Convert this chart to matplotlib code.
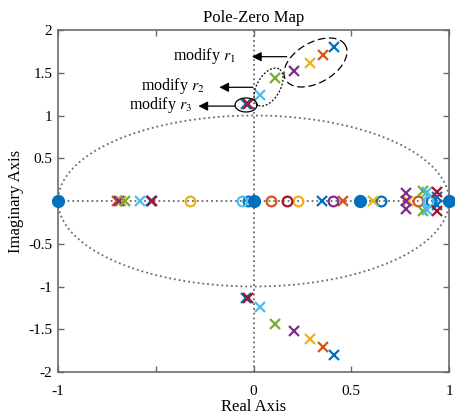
import numpy as np
import matplotlib.pyplot as plt

plt.rcParams['font.family'] = ['Liberation Serif', 'DejaVu Serif']
plt.rcParams['mathtext.fontset'] = 'stix'

# MATLAB default colour order
colors = ['#0072BD', '#D95319', '#EDB120', '#7E2F8E', '#77AC30', '#4DBEEE', '#A2142F']

# poles (complex) and zeros for each colour
poles = [
    [0.41+1.80j, 0.41-1.80j, -0.04+1.13j, -0.04-1.13j, 0.352, -0.524, 0.937+0.05j, 0.937-0.05j],
    [0.355+1.71j, 0.355-1.71j, -0.70, 0.459],
    [0.29+1.61j, 0.29-1.61j, -0.68, 0.61, 0.79],
    [0.205+1.52j, 0.205-1.52j, -0.686, 0.778+0.09j, 0.778-0.09j, 0.778],
    [0.11+1.44j, 0.11-1.44j, -0.657, 0.865+0.12j, 0.865-0.12j],
    [0.035+1.24j, 0.035-1.24j, -0.58, 0.89+0.10j, 0.89-0.10j],
    [-0.03+1.13j, -0.03-1.13j, -0.52, 0.94+0.10j, 0.94-0.12j],
]
zeros = [
    [-1.03, -0.027, 0.652, 0.91],
    [0.088, 0.843],
    [-0.325, 0.229],
    [0.405],
    [],
    [-0.06, 0.895],
    [-1.0, 0.17],
]
filled = [-1.0, 0.0, 0.545, 1.0]

xticks = [-1, -0.5, 0, 0.5, 1]
xlabels = ['-1', '', '0', '0.5', '1']
yticks = [-2, -1.5, -1, -0.5, 0, 0.5, 1, 1.5, 2]
ylabels = ['-2', '-1.5', '-1', '-0.5', '', '0.5', '1', '1.5', '2']

fig = plt.figure(figsize=(4.55, 4.15), dpi=100)
ax = fig.add_axes([0.1275, 0.1036, 0.8593, 0.8241])
ax.set_xlim(-1, 1)
ax.set_ylim(-2, 2)

grey = '#6b6b6b'
ax.axhline(0, color=grey, ls=':', lw=1.3, zorder=1)
ax.axvline(0, color=grey, ls=':', lw=1.3, zorder=1)
t = np.linspace(0, 2*np.pi, 400)
ax.plot(np.cos(t), np.sin(t), color=grey, ls=':', lw=1.3, zorder=1)

for c, p, z in zip(colors, poles, zeros):
    p = np.array(p, dtype=complex)
    ax.plot(p.real, p.imag, 'x', color=c, ms=6.5, mew=1.6, zorder=3)
    if z:
        z = np.array(z)
        ax.plot(z, np.zeros_like(z), 'o', mfc='none', mec=c, ms=7, mew=1.6, zorder=3)
ax.plot(filled, np.zeros(len(filled)), 'o', color=colors[0], ms=8.5, zorder=4, clip_on=False)

# ellipses given in pixels around a data-space centre
def px_ellipse(cx, cy, a, b, ang, **kw):
    x0, y0 = ax.transData.transform((cx, cy))
    th = np.deg2rad(ang)
    ex = a*np.cos(t)*np.cos(th) - b*np.sin(t)*np.sin(th) + x0
    ey = a*np.cos(t)*np.sin(th) + b*np.sin(t)*np.cos(th) + y0
    pts = ax.transData.inverted().transform(np.column_stack([ex, ey]))
    ax.plot(pts[:, 0], pts[:, 1], color='k', zorder=5, **kw)

px_ellipse(0.317, 1.62, 34.5, 20.1, 30, ls=(0, (6, 3)), lw=0.9)
px_ellipse(0.077, 1.333, 20.9, 11.6, 60, ls=(0, (1.5, 1.5)), lw=0.9)
px_ellipse(-0.038, 1.123, 11, 7, 0, ls='-', lw=0.9)

arrow = dict(arrowstyle='-|>', color='k', lw=0.9, mutation_scale=14, shrinkA=0, shrinkB=0)
ax.annotate('', xy=(-0.008, 1.688), xytext=(0.170, 1.688), arrowprops=arrow)
ax.annotate('', xy=(-0.175, 1.33), xytext=(-0.003, 1.33), arrowprops=arrow)
ax.annotate('', xy=(-0.282, 1.11), xytext=(-0.095, 1.11), arrowprops=arrow)
ax.text(-0.09, 1.70, 'modify $r_1$', ha='right', va='center', fontsize=11.5)
ax.text(-0.25, 1.345, 'modify $r_2$', ha='right', va='center', fontsize=11.5)
ax.text(-0.315, 1.125, 'modify $r_3$', ha='right', va='center', fontsize=11.5)

ax.set_xticks(xticks)
ax.set_xticklabels(xlabels)
ax.set_yticks(yticks)
ax.set_yticklabels(ylabels)
ax.tick_params(direction='in', top=True, right=True, length=4, width=1,
               color=grey, labelsize=11, pad=4)
ax.tick_params(axis='x', pad=9)
for s in ax.spines.values():
    s.set_color(grey)
    s.set_linewidth(1.2)

ax.set_title('Pole-Zero Map', fontsize=12, pad=6)
ax.set_xlabel('Real Axis', fontsize=12, labelpad=1)
ax.set_ylabel('Imaginary Axis', fontsize=12, labelpad=3)

fig.savefig('out.png', dpi=100)
